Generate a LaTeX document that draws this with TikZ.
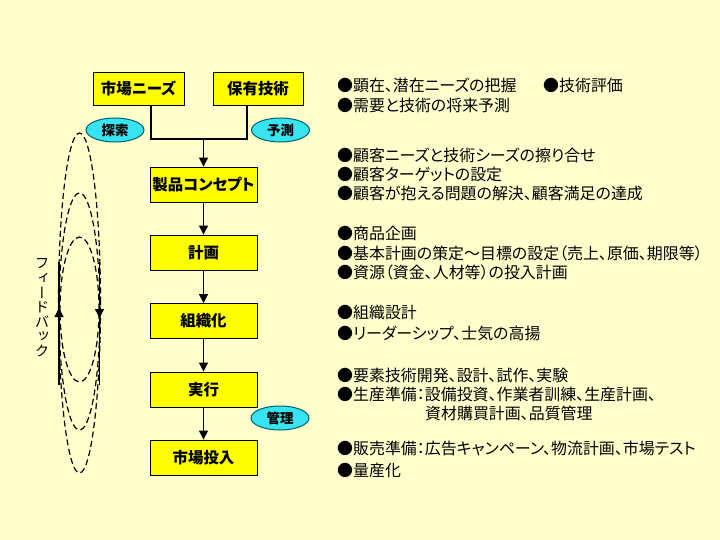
\documentclass[tikz,border=0pt]{standalone}
\usepackage{fontspec}
\setmainfont{Noto Sans CJK JP}[RawFeature=+palt]
\newfontfamily\vfont{Noto Sans CJK JP}[RawFeature=+vert]
\usetikzlibrary{arrows.meta,shapes.geometric}
\definecolor{bgyellow}{HTML}{FFFFCC}
\definecolor{boxyellow}{HTML}{FFFF00}
\definecolor{ovalfill}{HTML}{38E4F0}
\definecolor{ovalline}{HTML}{006070}
\tikzset{
  box/.style={draw=black, fill=boxyellow, line width=0.9bp, minimum width=107bp, minimum height=35bp, inner sep=0pt, font=\bfseries\fontsize{15.5}{18}\selectfont},
  oval/.style={ellipse, draw=ovalline, fill=ovalfill, line width=1bp, minimum width=58bp, minimum height=24bp, inner sep=0pt, font=\bfseries\fontsize{13.5}{16}\selectfont},
  conn/.style={draw=black, line width=1.2bp},
  arr/.style={conn, -{Triangle[width=9bp,length=9bp]}},
  loopline/.style={draw=black, line width=1.2bp, dash pattern=on 6bp off 3.5bp},
  txt/.style={anchor=west, inner sep=0pt, font=\fontsize{16}{18}\selectfont},
  vchar/.style={inner sep=0pt, font=\vfont\fontsize{14.5}{14.5}\selectfont},
}
\begin{document}
\begin{tikzpicture}[x=1bp,y=-1bp]
\fill[bgyellow] (0,0) rectangle (720,540);
\useasboundingbox (0,0) rectangle (720,540);

% feedback loops
\draw[loopline] (79.5,303) ellipse [x radius=21bp, y radius=170bp];
\draw[loopline] (79.5,311.5) ellipse [x radius=20.5bp, y radius=118.5bp];
\draw[loopline] (79.5,309.5) ellipse [x radius=19.5bp, y radius=72.5bp];
\coordinate (fbLb) at (59,385);
\coordinate (fbLm) at (59,308);
\coordinate (fbLt) at (59,262);
\coordinate (fbRt) at (99.5,262);
\coordinate (fbRm) at (99.5,318);
\coordinate (fbRb) at (99.5,385);
\draw[arr] (fbLb) -- (fbLm);
\draw[conn] (fbLm) -- (fbLt);
\draw[arr] (fbRt) -- (fbRm);
\draw[conn] (fbRm) -- (fbRb);
\node[vchar] (fb1) at (42,264) {フ};
\node[vchar] (fb2) at (42,278.5) {ィ};
\node[vchar] (fb3) at (42,293) {ー};
\node[vchar] (fb4) at (42,307.5) {ド};
\node[vchar] (fb5) at (42,322) {バ};
\node[vchar] (fb6) at (42,336.5) {ッ};
\node[vchar] (fb7) at (42,351) {ク};

% boxes
\node[box, minimum width=91bp, minimum height=33bp] (needs) at (138.5,88.5) {市場ニーズ};
\node[box, minimum width=90bp, minimum height=33bp] (tech) at (258,88.5) {保有技術};
\node[box] (concept) at (203.5,184.5) {製品コンセプト};
\node[box] (plan) at (203.5,252.5) {計画};
\node[box] (org) at (203.5,321) {組織化};
\node[box] (exec) at (203.5,389.5) {実行};
\node[box] (launch) at (203.5,457.5) {市場投入};

\coordinate (merge) at (203.5,139);
\draw[conn] ([xshift=12.5bp]needs.south) |- (merge) -| ([xshift=-11bp]tech.south);
\draw[arr] (merge) -- (concept.north);
\draw[arr] (concept) -- (plan);
\draw[arr] (plan) -- (org);
\draw[arr] (org) -- (exec);
\draw[arr] (exec) -- (launch);

% ovals
\node[oval] (tansaku) at (115,130) {探索};
\node[oval] (yosoku) at (280.5,130) {予測};
\node[oval] (kanri) at (280,418) {管理};

% right texts
\node[txt] (t1a) at (337,85) {●顕在、潜在ニーズの把握};
\node[txt] (t1b) at (543,85) {●技術評価};
\node[txt] (t1c) at (337,105) {●需要と技術の将来予測};
\node[txt] (t2a) at (337,155) {●顧客ニーズと技術シーズの擦り合せ};
\node[txt] (t2b) at (337,174) {●顧客ターゲットの設定};
\node[txt] (t2c) at (337,193) {●顧客が抱える問題の解決、顧客満足の達成};
\node[txt] (t3a) at (337,233) {●商品企画};
\node[txt] (t3b) at (337,253) {●基本計画の策定～目標の設定（売上、原価、期限等）};
\node[txt] (t3c) at (337,272) {●資源（資金、人材等）の投入計画};
\node[txt] (t4a) at (337,312) {●組織設計};
\node[txt] (t4b) at (337,333) {●リーダーシップ、士気の高揚};
\node[txt] (t5a) at (337,375) {●要素技術開発、設計、試作、実験};
\node[txt] (t5b) at (337,394) {●生産準備：設備投資、作業者訓練、生産計画、};
\node[txt] (t5c) at (425,413) {資材購買計画、品質管理};
\node[txt] (t6a) at (337,448) {●販売準備：広告キャンペーン、物流計画、市場テスト};
\node[txt] (t6b) at (337,470) {●量産化};
\end{tikzpicture}
\end{document}
